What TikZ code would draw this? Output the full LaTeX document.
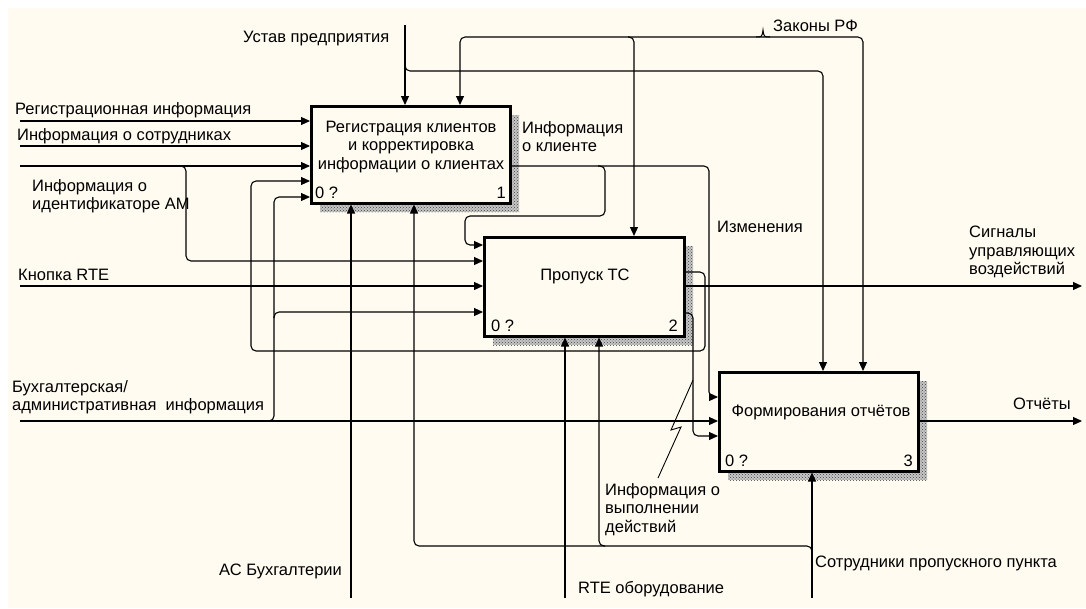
\documentclass[tikz,border=0pt]{standalone}
\usepackage{fontspec}
\setmainfont{Liberation Sans}
\usetikzlibrary{arrows.meta,patterns,calc}
\definecolor{cream}{RGB}{255,251,240}
\begin{document}
\begin{tikzpicture}[x=1pt,y=-1pt,
  conn/.style={line width=1.1pt, rounded corners=5pt},
  arr/.style={conn, -{Triangle[length=9pt,width=8pt]}},
  fbox/.style={draw, line width=2.5pt, fill=cream, inner sep=0pt, anchor=north west},
  shadowbox/.style={fill=gray!45, postaction={pattern=crosshatch dots, pattern color=black!75}},
  lbl/.style={font=\fontsize{16.5}{18.5}\selectfont, inner sep=0pt, align=left},
  ctr/.style={font=\fontsize{16.5}{18.5}\selectfont, inner sep=0pt, align=center},
  bolt/.style={line width=0.9pt}
]
\useasboundingbox (0,0) rectangle (1086,608);
\fill[white] (0,0) rectangle (1086,608);
\fill[cream] (8,8) rectangle (1086,608);

% shadows
\path[shadowbox] (320,115) rectangle (519,212);
\path[shadowbox] (493,246) rectangle (693,345);
\path[shadowbox] (728,381) rectangle (927,480);

% boxes
\node[fbox, minimum width=199pt, minimum height=97pt] (b1) at (310,105) {};
\node[fbox, minimum width=200pt, minimum height=99pt] (b2) at (483,236) {};
\node[fbox, minimum width=199pt, minimum height=99pt] (b3) at (718,371) {};

\node[ctr] (b1t) at (411,147) {Регистрация клиентов\\и корректировка\\информации о клиентах};
\node[ctr] (b2t) at (585,276) {Пропуск ТС};
\node[ctr] (b3t) at (821,412) {Формирования отчётов};

\node[lbl, anchor=base west] (b1a) at (315,198) {0 ?};
\node[lbl, anchor=base east] (b1n) at (506,198) {1};
\node[lbl, anchor=base west] (b2a) at (491,331) {0 ?};
\node[lbl, anchor=base east] (b2n) at (678,331) {2};
\node[lbl, anchor=base west] (b3a) at (725,466) {0 ?};
\node[lbl, anchor=base east] (b3n) at (913,466) {3};

% ports
\coordinate (b1i1) at ($(b1.north west)+(0,16)$);
\coordinate (b1i2) at ($(b1.north west)+(0,41)$);
\coordinate (b1i3) at ($(b1.north west)+(0,61)$);
\coordinate (b1i4) at ($(b1.north west)+(0,76)$);
\coordinate (b1i5) at ($(b1.north west)+(0,92)$);
\coordinate (b1c1) at ($(b1.north west)+(95,0)$);
\coordinate (b1c2) at ($(b1.north west)+(150,0)$);
\coordinate (b1m1) at ($(b1.south west)+(41,0)$);
\coordinate (b1m2) at ($(b1.south west)+(104,0)$);
\coordinate (b1o1) at ($(b1.north east)+(0,61)$);

\coordinate (b2i1) at ($(b2.north west)+(0,9)$);
\coordinate (b2i2) at ($(b2.north west)+(0,25)$);
\coordinate (b2i3) at ($(b2.north west)+(0,50)$);
\coordinate (b2i4) at ($(b2.north west)+(0,76)$);
\coordinate (b2c1) at ($(b2.north west)+(151,0)$);
\coordinate (b2m1) at ($(b2.south west)+(82,0)$);
\coordinate (b2m2) at ($(b2.south west)+(116,0)$);
\coordinate (b2o1) at ($(b2.north east)+(0,36)$);
\coordinate (b2o2) at ($(b2.north east)+(0,50)$);
\coordinate (b2o3) at ($(b2.north east)+(0,77)$);

\coordinate (b3i1) at ($(b3.north west)+(0,26)$);
\coordinate (b3i2) at ($(b3.north west)+(0,50)$);
\coordinate (b3i3) at ($(b3.north west)+(0,65)$);
\coordinate (b3c1) at ($(b3.north west)+(105,0)$);
\coordinate (b3c2) at ($(b3.north west)+(145,0)$);
\coordinate (b3m1) at ($(b3.south west)+(94,0)$);
\coordinate (b3o1) at ($(b3.north east)+(0,50)$);

% free ends and bends
\coordinate (rI) at (20,121);
\coordinate (sI) at (20,146);
\coordinate (idI) at (20,166);
\coordinate (knI) at (20,286);
\coordinate (buI) at (20,421);
\coordinate (usT) at (405,25);
\coordinate (zkJ) at (763,37);
\coordinate (asB) at (351,598);
\coordinate (rteB) at (565,598);
\coordinate (soB) at (812,598);
\coordinate (sigO) at (1082,286);
\coordinate (otO) at (1082,421);

\coordinate (idJ) at (186,166);
\coordinate (lpR) at (705,351);
\coordinate (lpL) at (251,351);
\coordinate (buJ) at (274,421);
\coordinate (usJ) at (405,71);
\coordinate (usR) at (823,71);
\coordinate (chX) at (709,166);
\coordinate (kJ) at (605,166);
\coordinate (kL) at (465,216);
\coordinate (exX) at (693,313);
\coordinate (soJ) at (812,546);
\coordinate (bolt1) at (693,380);
\coordinate (bolt2) at (658,478);

% left inputs
\draw[arr] (rI) -- (b1i1);
\draw[arr] (sI) -- (b1i2);
\draw[arr] (idI) -- (b1i3);
\draw[arr] ($(idJ)+(-6,0)$) -- (idJ) -- (idJ |- b2i2) -- (b2i2);
\draw[arr] (knI) -- (b2i3);
\draw[arr] (buI) -- (b3i2);
\draw[arr] ($(buJ)+(-7,0)$) -- (buJ) -- (buJ |- b1i5) -- (b1i5);
\draw[arr] ($(buJ |- b2i4)+(0,6)$) -- (buJ |- b2i4) -- (b2i4);

% feedback loop from box 2 to box 1
\draw[arr] (b2o1) -- (b2o1 -| lpR) -- (lpR) -- (lpL) -- (lpL |- b1i4) -- (b1i4);

% controls
\draw[arr] (usT) -- (b1c1);
\draw[arr] ($(usJ)+(0,-6)$) -- (usJ) -- (usR) -- (b3c1);
\draw[arr] (zkJ) -- (zkJ -| b1c2) -- (b1c2);
\draw[arr] (zkJ) -- (zkJ -| b3c2) -- (b3c2);
\draw[arr] ($(zkJ -| b2c1)+(-6,0)$) -- (zkJ -| b2c1) -- (b2c1);
\draw[line width=1pt] ($(zkJ)+(-7,0)$) .. controls ($(zkJ)+(-1,0)$) .. ($(zkJ)+(0,-7)$)
      .. controls ($(zkJ)+(1,0)$) .. ($(zkJ)+(7,0)$);

% box 1 output
\draw[arr] (b1o1) -- (chX) -- (chX |- b3i1) -- (b3i1);
\draw[arr] ($(kJ)+(-7,0)$) -- (kJ) -- (kJ |- kL) -- (kL) -- (kL |- b2i1) -- (b2i1);

% box 2 outputs
\draw[arr] (b2o2) -- (sigO);
\draw[arr] (b2o3) -- (exX) -- (exX |- b3i3) -- (b3i3);
\draw[bolt] (bolt1) -- (671,430) -- (681,427) -- (bolt2);

% box 3 output
\draw[arr] (b3o1) -- (otO);

% mechanisms
\draw[arr] (asB) -- (b1m1);
\draw[arr] (rteB) -- (b2m1);
\draw[arr] (soB) -- (b3m1);
\draw[arr] ($(soJ)+(0,6)$) -- (soJ) -- (soJ -| b1m2) -- (b1m2);
\draw[arr] ($(soJ -| b2m2)+(6,0)$) -- (soJ -| b2m2) -- (b2m2);

% labels
\node[lbl, anchor=base west] (lUs) at (243,42) {Устав предприятия};
\node[lbl, anchor=base west] (lZk) at (773,31) {Законы РФ};
\node[lbl, anchor=base west] (lRi) at (15,114) {Регистрационная информация};
\node[lbl, anchor=base west] (lSi) at (17,140) {Информация о сотрудниках};
\node[lbl, anchor=north west] (lId) at (32,179) {Информация о\\идентификаторе АМ};
\node[lbl, anchor=base west] (lKn) at (18,280) {Кнопка RTE};
\node[lbl, anchor=north west] (lBu) at (12,380) {Бухгалтерская/\\административная\ \ информация};
\node[lbl, anchor=north west] (lKl) at (522,121) {Информация\\о клиенте};
\node[lbl, anchor=base west] (lIz) at (717,232) {Изменения};
\node[lbl, anchor=north west] (lSg) at (969,226) {Сигналы\\управляющих\\воздействий};
\node[lbl, anchor=base west] (lOt) at (1013,409) {Отчёты};
\node[lbl, anchor=base west] (lAs) at (219,575) {АС Бухгалтерии};
\node[lbl, anchor=base west] (lRt) at (578,593) {RTE оборудование};
\node[lbl, anchor=base west] (lSo) at (815,567) {Сотрудники пропускного пункта};
\node[lbl, anchor=north west] (lVy) at (605,483) {Информация о\\выполнении\\действий};
\end{tikzpicture}
\end{document}
